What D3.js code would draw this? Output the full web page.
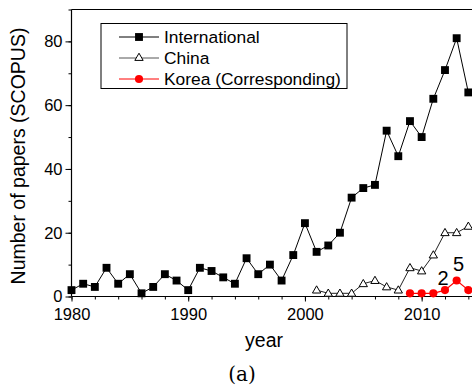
<!DOCTYPE html>
<html>
<head>
<meta charset="utf-8">
<script src="https://cdn.jsdelivr.net/npm/d3@7/dist/d3.min.js"></script>
<style>
  html, body { margin: 0; padding: 0; background: #fff; }
  svg { display: block; }
  text { font-family: "Liberation Sans", Arial, sans-serif; fill: #000; }
</style>
</head>
<body>
<svg id="chart" width="472" height="387"></svg>
<script>
// Yearly paper counts (SCOPUS)
const intlYears = d3.range(1980, 2015);
const intlValues = [2, 4, 3, 9, 4, 7, 1, 3, 7, 5, 2, 9, 8, 6, 4, 12, 7, 10, 5, 13,
                    23, 14, 16, 20, 31, 34, 35, 52, 44, 55, 50, 62, 71, 81, 64];
const chinaYears = d3.range(2001, 2015);
const chinaValues = [2, 1, 1, 1, 4, 5, 3, 2, 9, 8, 13, 20, 20, 22];
const koreaYears = d3.range(2009, 2015);
const koreaValues = [1, 1, 1, 2, 5, 2];
// values printed beside the Korea points
const koreaLabelYears = [2012, 2013];

const xTicks = [1980, 1990, 2000, 2010];
const yTicks = [0, 20, 40, 60, 80];
const seriesNames = ["International", "China", "Korea (Corresponding)"];

const svg = d3.select("#chart");
const pLeft = 71.5, pRight = 480, pTop = 9.5, pBottom = 296.5;

const x = d3.scaleLinear().domain([1980, 2015]).range([pLeft, pRight]);
const y = d3.scaleLinear().domain([0, 90]).range([pBottom, pTop]);

const toPoints = (years, vals) => years.map((yr, i) => ({ yr, v: vals[i] }));
const intl = toPoints(intlYears, intlValues);
const china = toPoints(chinaYears, chinaValues);
const korea = toPoints(koreaYears, koreaValues);

// top edge of the frame
svg.append("line").attr("x1", pLeft).attr("x2", pRight).attr("y1", pTop).attr("y2", pTop)
  .attr("stroke", "#000").attr("stroke-width", 1.2);

// x axis with minor ticks every 2 years
const xAxisG = svg.append("g").attr("transform", `translate(0,${pBottom})`);
xAxisG.call(d3.axisBottom(x).tickValues(d3.range(1980, 2015, 2)).tickSize(3).tickFormat(""))
  .call(g => g.select(".domain").remove());
xAxisG.append("g").call(d3.axisBottom(x).tickValues(xTicks).tickSize(5).tickPadding(7).tickFormat(d3.format("d")))
  .call(g => g.select(".domain").remove())
  .call(g => g.selectAll("text").attr("font-size", 16.5).attr("font-family", "Liberation Sans, Arial, sans-serif").attr("fill", "#000"));
svg.append("line").attr("x1", pLeft).attr("x2", pRight).attr("y1", pBottom).attr("y2", pBottom)
  .attr("stroke", "#000").attr("stroke-width", 1.2);
xAxisG.selectAll(".tick line").attr("stroke", "#000");

// y axis with minor ticks every 10
const yAxisG = svg.append("g").attr("transform", `translate(${pLeft},0)`);
yAxisG.call(d3.axisLeft(y).tickValues(d3.range(0, 91, 10)).tickSize(3).tickFormat(""))
  .call(g => g.select(".domain").remove());
yAxisG.append("g").call(d3.axisLeft(y).tickValues(yTicks).tickSize(6).tickPadding(3))
  .call(g => g.select(".domain").remove())
  .call(g => g.selectAll("text").attr("font-size", 16.5).attr("font-family", "Liberation Sans, Arial, sans-serif").attr("fill", "#000"));
svg.append("line").attr("x1", pLeft).attr("x2", pLeft).attr("y1", pTop).attr("y2", pBottom)
  .attr("stroke", "#000").attr("stroke-width", 1.2);
yAxisG.selectAll(".tick line").attr("stroke", "#000");

// axis titles
svg.append("text").attr("x", 264).attr("y", 347).attr("text-anchor", "middle")
  .attr("font-size", 19.5).text("year");
svg.append("text").attr("transform", "translate(25,156) rotate(-90)").attr("text-anchor", "middle")
  .attr("font-size", 19.5).text("Number of papers (SCOPUS)");
svg.append("text").attr("x", 242).attr("y", 381).attr("text-anchor", "middle")
  .attr("font-size", 20).style("font-family", "'DejaVu Serif', serif").text("(a)");

const line = d3.line().x(d => x(d.yr)).y(d => y(d.v));
const plot = svg.append("g");

const sqSym = d3.symbol(d3.symbolSquare, 62);
const triSym = d3.symbol(d3.symbolTriangle, 30);
const cirSym = d3.symbol(d3.symbolCircle, 52);

// International
plot.append("path").datum(intl).attr("d", line).attr("fill", "none").attr("stroke", "#000").attr("stroke-width", 1);
plot.selectAll(".sq").data(intl).join("path").attr("class", "sq")
  .attr("transform", d => `translate(${x(d.yr)},${y(d.v)})`).attr("d", sqSym).attr("fill", "#000");

// China
plot.append("path").datum(china).attr("d", line).attr("fill", "none").attr("stroke", "#222").attr("stroke-width", 1);
plot.selectAll(".tri").data(china).join("path").attr("class", "tri")
  .attr("transform", d => `translate(${x(d.yr)},${y(d.v) + 0.5})`).attr("d", triSym)
  .attr("fill", "#fff").attr("stroke", "#000").attr("stroke-width", 1);

// Korea
plot.append("path").datum(korea).attr("d", line).attr("fill", "none").attr("stroke", "#ff0000").attr("stroke-width", 1.2);
plot.selectAll(".cir").data(korea).join("path").attr("class", "cir")
  .attr("transform", d => `translate(${x(d.yr)},${y(d.v)})`).attr("d", cirSym).attr("fill", "#ff0000");

// value labels for the Korea series
plot.selectAll(".vlab").data(korea.filter(d => koreaLabelYears.includes(d.yr))).join("text")
  .attr("class", "vlab")
  .attr("x", d => x(d.yr) + (d.v > 3 ? 2 : -2))
  .attr("y", d => y(d.v) - (d.v > 3 ? 10 : 5))
  .attr("text-anchor", "middle").attr("font-size", 20).text(d => d.v);

// legend
const lg = svg.append("g");
lg.append("rect").attr("x", 101).attr("y", 23.5).attr("width", 246).attr("height", 65)
  .attr("fill", "#fff").attr("stroke", "#000").attr("stroke-width", 1);
const lgColors = ["#000", "#555", "#ff0000"];
const lgSyms = [sqSym, triSym, cirSym];
seriesNames.forEach((name, i) => {
  const cy = 37 + i * 21;
  lg.append("line").attr("x1", 119).attr("x2", 159).attr("y1", cy).attr("y2", cy)
    .attr("stroke", lgColors[i]).attr("stroke-width", 1);
  const m = lg.append("path").attr("transform", `translate(139,${cy})`).attr("d", lgSyms[i]);
  if (i === 1) m.attr("fill", "#fff").attr("stroke", "#000");
  else m.attr("fill", i === 2 ? "#ff0000" : "#000");
  lg.append("text").attr("x", 164).attr("y", cy + 6.3).attr("font-size", 17.4).text(name);
});
</script>
</body>
</html>
